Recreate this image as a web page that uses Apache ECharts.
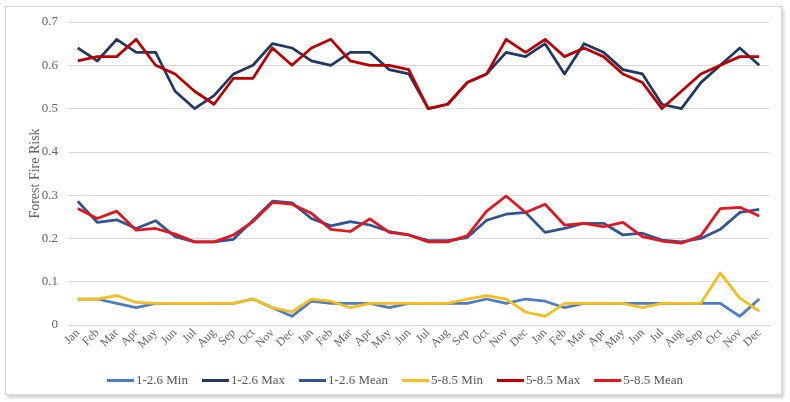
<!DOCTYPE html>
<html>
<head>
<meta charset="utf-8">
<script src="https://cdn.jsdelivr.net/npm/echarts@6/dist/echarts.min.js"></script>
<style>
  html, body { margin: 0; padding: 0; background: #ffffff; }
  #wrap { position: relative; width: 790px; height: 402px; overflow: hidden; }
  #frame { position: absolute; left: 5px; top: 6px; width: 775px; height: 387px;
           border: 1px solid #d9d9d9; box-shadow: 2px 3px 3px rgba(0,0,0,0.18); background: #fff; }
  #chart { position: absolute; left: 0; top: 0; width: 790px; height: 402px; }
</style>
</head>
<body>
<div id="wrap">
  <div id="frame"></div>
  <div id="chart"></div>
</div>
<script>
const monthNames = ['Jan','Feb','Mar','Apr','May','Jun','Jul','Aug','Sep','Oct','Nov','Dec'];
const categories = [].concat(monthNames, monthNames, monthNames);

const yTicks = [0, 0.1, 0.2, 0.3, 0.4, 0.5, 0.6, 0.7];

const seriesNames = ['1-2.6 Min', '1-2.6 Max', '1-2.6 Mean', '5-8.5 Min', '5-8.5 Max', '5-8.5 Mean'];

const min126 = [0.06,0.06,0.05,0.04,0.05,0.05,0.05,0.05,0.05,0.06,0.04,0.02,
                0.055,0.05,0.05,0.05,0.04,0.05,0.05,0.05,0.05,0.06,0.05,0.06,
                0.055,0.04,0.05,0.05,0.05,0.05,0.05,0.05,0.05,0.05,0.02,0.06];

const max126 = [0.64,0.61,0.66,0.63,0.63,0.54,0.50,0.53,0.58,0.60,0.65,0.64,
                0.61,0.60,0.63,0.63,0.59,0.58,0.50,0.51,0.56,0.58,0.63,0.62,
                0.65,0.58,0.65,0.63,0.59,0.58,0.51,0.50,0.56,0.60,0.64,0.60];

const mean126 = [0.286,0.237,0.243,0.223,0.241,0.204,0.192,0.192,0.198,0.242,0.286,0.282,
                 0.246,0.229,0.239,0.231,0.216,0.208,0.195,0.195,0.202,0.242,0.256,0.260,
                 0.214,0.223,0.235,0.235,0.208,0.212,0.196,0.192,0.200,0.221,0.260,0.267];

const min585 = [0.06,0.06,0.068,0.052,0.05,0.05,0.05,0.05,0.05,0.06,0.04,0.03,
                0.06,0.055,0.04,0.05,0.05,0.05,0.05,0.05,0.06,0.068,0.06,0.03,
                0.02,0.05,0.05,0.05,0.05,0.04,0.05,0.05,0.05,0.12,0.062,0.032];

const max585 = [0.61,0.62,0.62,0.66,0.60,0.58,0.54,0.51,0.57,0.57,0.64,0.60,
                0.64,0.66,0.61,0.60,0.60,0.59,0.50,0.51,0.56,0.58,0.66,0.63,
                0.66,0.62,0.64,0.62,0.58,0.56,0.50,0.54,0.58,0.60,0.62,0.62];

const mean585 = [0.269,0.246,0.263,0.219,0.223,0.210,0.192,0.192,0.208,0.239,0.283,0.279,
                 0.258,0.221,0.216,0.245,0.214,0.208,0.192,0.192,0.206,0.263,0.298,0.260,
                 0.279,0.231,0.235,0.227,0.237,0.204,0.194,0.189,0.206,0.269,0.272,0.252];

const seriesData = [min126, max126, mean126, min585, max585, mean585];
const colors = ['#4a7cc8', '#1f3864', '#2f5597', '#f7bd1a', '#c00000', '#e8141c'];

const serif = '"Liberation Serif", "DejaVu Serif", serif';

const chart = echarts.init(document.getElementById('chart'), null, { renderer: 'canvas' });
chart.setOption({
  animation: false,
  backgroundColor: 'transparent',
  color: colors,
  grid: { left: 68, right: 21, top: 22, bottom: 77, containLabel: false },
  legend: {
    data: seriesNames,
    left: 'center',
    top: 369,
    icon: 'rect',
    itemWidth: 27,
    itemHeight: 3,
    itemGap: 14,
    textStyle: { fontFamily: serif, fontSize: 13, color: '#595959', padding: [0, 0, 0, -3] }
  },
  xAxis: {
    type: 'category',
    data: categories,
    boundaryGap: true,
    axisTick: { show: false },
    axisLine: { show: true, lineStyle: { color: '#d9d9d9', width: 1 } },
    axisLabel: { interval: 0, rotate: 45, margin: 6, fontFamily: serif, fontSize: 12, color: '#666666' }
  },
  yAxis: {
    type: 'value',
    min: yTicks[0],
    max: yTicks[yTicks.length - 1],
    interval: 0.1,
    name: 'Forest Fire Risk',
    nameLocation: 'middle',
    nameGap: 26,
    nameMoveOverlap: false,
    nameTextStyle: { fontFamily: serif, fontSize: 14, color: '#666666' },
    axisLine: { show: false },
    axisTick: { show: false },
    axisLabel: { margin: 10, fontFamily: serif, fontSize: 13, color: '#666666',
                 formatter: v => String(Math.round(v * 10) / 10) },
    splitLine: { lineStyle: { color: '#d9d9d9', width: 1 } }
  },
  series: seriesNames.map((name, i) => ({
    name: name,
    type: 'line',
    data: seriesData[i],
    symbol: 'none',
    showSymbol: false,
    lineStyle: { width: 2.75, color: colors[i], join: 'round' },
    itemStyle: { color: colors[i] },
    z: 2 + i
  }))
});
</script>
</body>
</html>
